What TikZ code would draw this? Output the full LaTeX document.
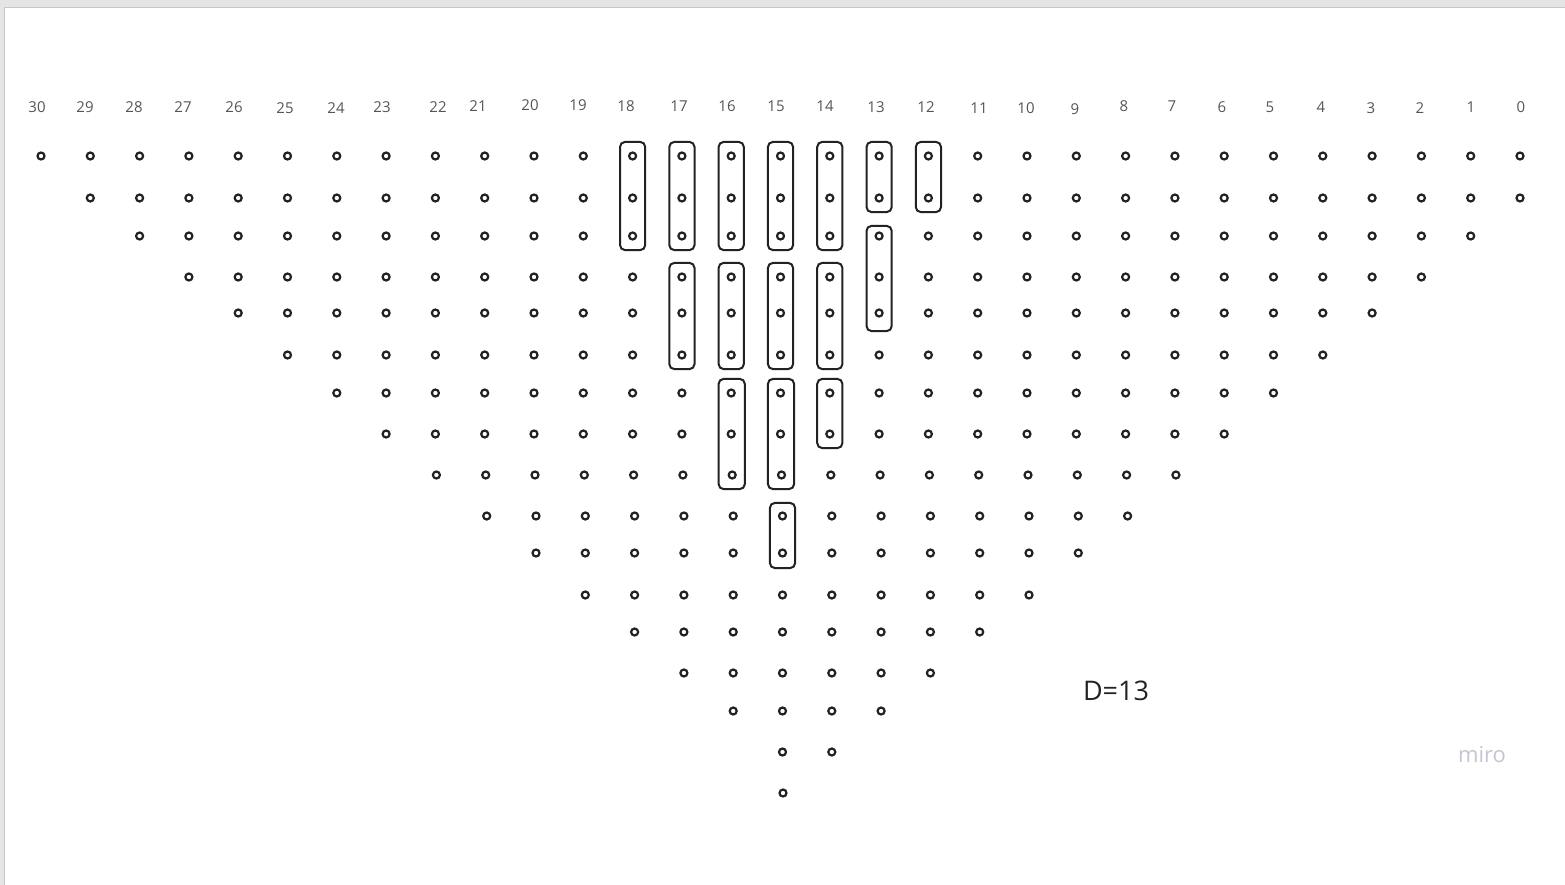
\documentclass[tikz,border=0pt]{standalone}
\usepackage{fontspec}
\setmainfont{Open Sans}
\usetikzlibrary{calc}
\usetikzlibrary{fit}
\definecolor{labgray}{HTML}{555555}
\definecolor{inkdark}{HTML}{222222}
\definecolor{mirogray}{HTML}{C4C4D4}

\begin{document}
\begin{tikzpicture}[x=1pt, y=-1pt,
    dot/.style={circle, draw=inkdark, line width=2.2pt, inner sep=0pt, minimum size=7pt},
    grp/.style={draw=inkdark, line width=2pt, rounded corners=5pt, inner xsep=8pt, inner ysep=9.5pt},
    lab/.style={text=labgray, font=\fontsize{15}{18}\selectfont}]
      \useasboundingbox (0,0) rectangle (1565,885);
      % frame of the board
      \fill[black!10] (0,0) rectangle (1565,7);
      \fill[black!10] (0,7) rectangle (4,885);
      \draw[black!22, line width=1pt] (4.5,885) -- (4.5,7.5) -- (1565,7.5);
      % column numbers
      \foreach \c/\x/\y in {30/37/107, 29/85/107, 28/134/107, 27/183/107, 26/234/107, 25/285/108,
          24/336/108, 23/382/107, 22/438/107, 21/478/106, 20/530/105, 19/578/105,
          18/626/106, 17/679/106, 16/727/106, 15/776/106, 14/825/106, 13/876/107, 12/926/107,
          11/979/108, 10/1026/108, 9/1075/109, 8/1124/106, 7/1172/106, 6/1222/107,
          5/1270/107, 4/1321/107, 3/1371/108, 2/1420/108, 1/1471/107, 0/1521/107} {
        \node[lab] (l\c) at (\x,\y) {\c};
      }
      % rows of dots
      \foreach \r/\y/\dx in {0/156/0, 1/198/0, 2/236/0, 3/277/0, 4/313/0, 5/355/0, 6/393/0,
          7/434/0, 8/475/1, 9/516/2, 10/553/2, 11/595/2, 12/632/2, 13/673/2, 14/711/2, 15/752/2} {
        \pgfmathtruncatemacro\lo{max(\r-1,0)}
        \pgfmathtruncatemacro\hi{30-\r}
        \foreach \c in {\lo,...,\hi} {
          \node[dot] (d-\c-\r) at ({41+(30-\c)*49.3+\dx},\y) {};
        }
      }
      \node[dot] (d-15-16) at (783,793) {};
      % groups
      \foreach \c/\a/\b/\s in {18/0/2/0, 17/0/2/0, 17/3/5/0, 16/0/2/0, 16/3/5/0, 16/6/8/0,
          15/0/2/0, 15/3/5/0, 15/6/8/0, 15/9/10/-1, 14/0/2/0, 14/3/5/0, 14/6/7/0,
          13/0/1/0, 13/2/4/-4, 12/0/1/0} {
        \node[grp, yshift=\s pt, fit=(d-\c-\a)(d-\c-\b)] (g-\c-\a) {};
      }
      \node[text=inkdark, font=\fontsize{27}{32}\selectfont] (dval) at (1116,691) {D=13};
      \node[text=mirogray, font=\fontsize{22}{26}\selectfont] (miro) at (1482,755) {miro};
    \end{tikzpicture}
\end{document}
